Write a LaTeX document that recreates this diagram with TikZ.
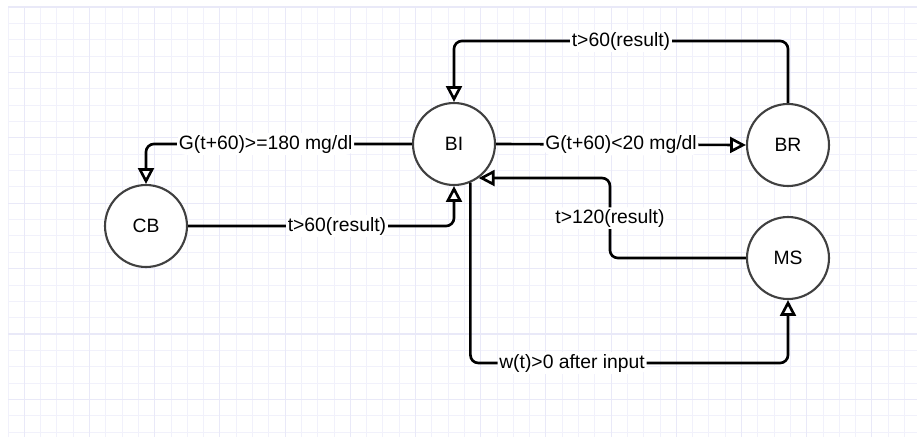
\documentclass[tikz,border=0pt]{standalone}
\usepackage{fontspec}
\setmainfont{Liberation Sans}
\usetikzlibrary{arrows.meta}

\definecolor{gridminor}{RGB}{241,241,251}
\definecolor{gridmajor}{RGB}{233,233,248}

\begin{document}
\begin{tikzpicture}[x=0.02cm, y=-0.02cm, font=\fontsize{11}{13}\selectfont,
        stage/.style={circle, draw=black!75, line width=1.2pt, fill=white, minimum size=1.64cm, inner sep=0pt},
        flow/.style={draw=black, line width=1.5pt, rounded corners=4.5pt, -{Triangle[open, length=9pt, width=9pt]}},
        cond/.style={fill=white, inner sep=1pt}]
        \useasboundingbox (0,0) rectangle (917,437);

        % background grid
        \foreach \i in {0,...,55} \draw[gridminor, line width=0.5pt] ({8+16.3*\i}, 7) -- ({8+16.3*\i}, 437);
        \foreach \j in {0,...,26} \draw[gridminor, line width=0.5pt] (8, {7+16.35*\j}) -- (917, {7+16.35*\j});
        \foreach \i in {1,5,...,53} \draw[gridmajor, line width=0.6pt] ({8+16.3*\i}, 7) -- ({8+16.3*\i}, 437);
        \foreach \j in {0,4,...,24} \draw[gridmajor, line width=0.6pt] (8, {7+16.35*\j}) -- (917, {7+16.35*\j});

        \node[stage] (BI) at (454, 144) {BI};
        \node[stage] (CB) at (146, 226) {CB};
        \node[stage] (BR) at (788, 145) {BR};
        \node[stage] (MS) at (788, 258) {MS};

        \coordinate (toprow) at (0, 41);
        \coordinate (lowrow) at (0, 363);

        \draw[flow] (BI.west) -- node[cond, pos=0.55] {G(t+60)>=180 mg/dl} (BI.west -| CB.north) -- (CB.north);
        \draw[flow] (CB.east) -- node[cond, pos=0.56] {t>60(result)} (CB.east -| BI.south) -- (BI.south);
        \draw[flow] (BI.east) -- node[cond] {G(t+60)<20 mg/dl} (BR.west);
        \draw[flow] (BR.north) -- (BR.north |- toprow) -- node[cond] {t>60(result)} (BI.north |- toprow) -- (BI.north);
        \draw[flow] (MS.west) -- ++(-136, 0) |- node[cond, pos=0.25] {t>120(result)} (BI.-54);
        \draw[flow] (BI.-67) -- (BI.-67 |- lowrow) -- node[cond, pos=0.32] {w(t)>0 after input} (MS.south |- lowrow) -- (MS.south);
\end{tikzpicture}
\end{document}
